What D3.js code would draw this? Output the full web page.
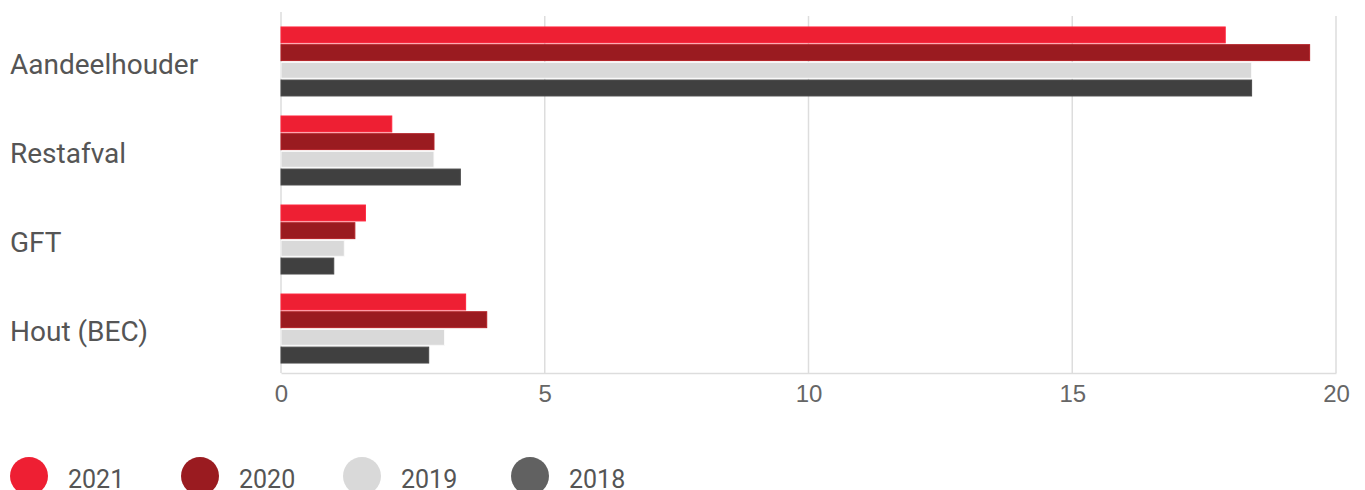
<!DOCTYPE html>
<html>
<head>
<meta charset="utf-8">
<script src="https://cdn.jsdelivr.net/npm/d3@7"></script>
<style>
  body { margin: 0; background: #fff; }
  svg { display: block; font-family: Roboto, "Noto Sans", sans-serif; }
</style>
</head>
<body>
<script>
// data
const categories = ["Aandeelhouder", "Restafval", "GFT", "Hout (BEC)"];
const years = ["2021", "2020", "2019", "2018"];
const v2021 = [17.9, 2.1, 1.6, 3.5];
const v2020 = [19.5, 2.9, 1.4, 3.9];
const v2019 = [18.4, 2.9, 1.2, 3.1];
const v2018 = [18.4, 3.4, 1.0, 2.8];
const xTicks = [0, 5, 10, 15, 20];

const series = [v2021, v2020, v2019, v2018];
const barColors = ["#ee1f33", "#9a1b20", "#d9d9d9", "#404040"];
const legendColors = ["#ee1f33", "#9a1b20", "#d9d9d9", "#616161"];

const width = 1365, height = 490;
const margin = { top: 12, right: 29, bottom: 117, left: 281 };
const plotBottom = height - margin.bottom;

const svg = d3.select("body").append("svg")
    .attr("width", width)
    .attr("height", height);

const x = d3.scaleLinear()
    .domain([0, 20])
    .range([margin.left, width - margin.right]);

const y = d3.scaleBand()
    .domain(categories)
    .range([margin.top + 5, plotBottom])
    .paddingInner(0.225)
    .paddingOuter(0.112);

const yInner = d3.scaleBand()
    .domain(years)
    .range([0, y.bandwidth()])
    .paddingInner(0.1)
    .paddingOuter(0);

// grid lines
svg.append("g")
    .selectAll("line")
    .data(xTicks)
    .join("line")
    .attr("x1", d => x(d))
    .attr("x2", d => x(d))
    .attr("y1", d => d === 0 ? margin.top : margin.top + 4)
    .attr("y2", plotBottom)
    .attr("stroke", "#dddddd")
    .attr("stroke-width", 1.5);

// x axis
const xAxis = svg.append("g")
    .attr("transform", `translate(0,${plotBottom})`)
    .call(d3.axisBottom(x).tickValues(xTicks).tickSize(0).tickPadding(12));
xAxis.select(".domain").attr("stroke", "#dddddd").attr("stroke-width", 1.5);
xAxis.selectAll("text")
    .attr("fill", "#666")
    .style("font-size", "24px");

// y labels
svg.append("g")
    .selectAll("text")
    .data(categories)
    .join("text")
    .attr("x", 10)
    .attr("y", d => y(d) + y.bandwidth() / 2 + 3)
    .attr("dy", "0.35em")
    .attr("fill", "#555")
    .style("font-size", "28px")
    .text(d => d);

// bars
const groups = svg.append("g")
    .selectAll("g")
    .data(categories)
    .join("g")
    .attr("transform", d => `translate(0,${y(d)})`);

groups.selectAll("rect")
    .data((d, i) => years.map((yr, j) => ({ year: yr, value: series[j][i], j })))
    .join("rect")
    .attr("x", x(0))
    .attr("y", d => yInner(d.year))
    .attr("width", d => x(d.value) - x(0))
    .attr("height", yInner.bandwidth())
    .attr("fill", d => barColors[d.j])
    .attr("stroke", d => d3.color(barColors[d.j]).brighter(0.4))
    .attr("stroke-width", 1);

// legend
const legendX = [29, 200, 362, 530];
const legend = svg.append("g")
    .selectAll("g")
    .data(years)
    .join("g")
    .attr("transform", (d, i) => `translate(${legendX[i]},476)`);

legend.append("circle")
    .attr("r", 19)
    .attr("fill", (d, i) => legendColors[i]);

legend.append("text")
    .attr("x", 39)
    .attr("y", 12)
    .attr("fill", "#555")
    .style("font-size", "25px")
    .text(d => d);
</script>
</body>
</html>
